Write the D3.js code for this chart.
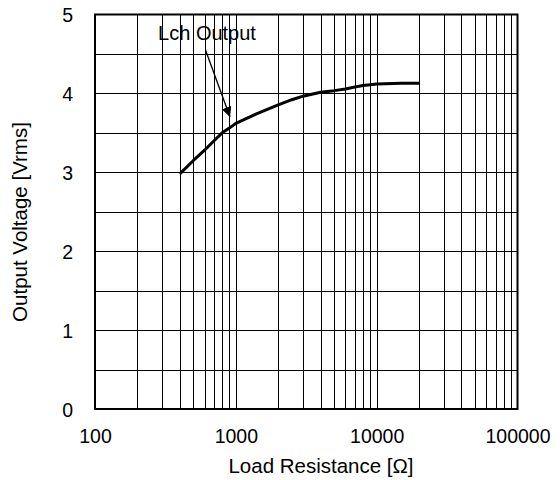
<!DOCTYPE html>
<html>
<head>
<meta charset="utf-8">
<script src="https://cdn.jsdelivr.net/npm/d3@7"></script>
<style>
  html, body { margin: 0; padding: 0; background: #fff; }
  svg { display: block; font-family: "Liberation Sans", Arial, sans-serif; }
</style>
</head>
<body>
<svg id="chart" width="560" height="480"></svg>
<script>
// Load resistance sweep (ohms) and measured Lch output voltage (Vrms)
const loadResistance = [400, 500, 600, 700, 800, 900, 1000, 1400, 2000, 2500, 3000, 4000, 5000, 6000, 7000, 8000, 9000, 10000, 15000, 20000];
const outputVoltage  = [2.98, 3.15, 3.28, 3.40, 3.50, 3.56, 3.62, 3.74, 3.855, 3.92, 3.965, 4.015, 4.035, 4.055, 4.08, 4.10, 4.11, 4.12, 4.13, 4.13];

const xTickValues = [100, 1000, 10000, 100000];
const xTickLabels = ["100", "1000", "10000", "100000"];
const yTickValues = [0, 1, 2, 3, 4, 5];
const yTickLabels = ["0", "1", "2", "3", "4", "5"];
const xTitle = "Load Resistance [Ω]";
const yTitle = "Output Voltage [Vrms]";
const seriesLabel = "Lch Output";

const svg = d3.select("#chart");
const plotLeft = 95, plotRight = 517.5, plotTop = 14.5, plotBottom = 409;

const x = d3.scaleLog().domain([100, 100000]).range([plotLeft, plotRight]);
const y = d3.scaleLinear().domain([0, 5]).range([plotBottom, plotTop]);

// Vertical grid at 1..9 x each decade
const xGrid = [];
for (let d = 100; d < 100000; d *= 10) {
  for (let m = 1; m <= 9; m++) {
    const v = d * m;
    if (v > 100 && v < 100000) xGrid.push(v);
  }
}
const yGrid = d3.range(0.5, 5, 0.5);

const grid = svg.append("g").attr("stroke", "#000").attr("stroke-width", 1).attr("shape-rendering", "crispEdges");
grid.selectAll("line.vx").data(xGrid).join("line")
  .attr("class", "vx")
  .attr("x1", d => Math.round(x(d)) + 0.5).attr("x2", d => Math.round(x(d)) + 0.5)
  .attr("y1", plotTop).attr("y2", plotBottom);
grid.selectAll("line.hy").data(yGrid).join("line")
  .attr("class", "hy")
  .attr("x1", plotLeft).attr("x2", plotRight)
  .attr("y1", d => Math.round(y(d)) + 0.5).attr("y2", d => Math.round(y(d)) + 0.5);

// Frame
svg.append("rect")
  .attr("x", plotLeft).attr("y", plotTop)
  .attr("width", plotRight - plotLeft).attr("height", plotBottom - plotTop)
  .attr("fill", "none").attr("stroke", "#000").attr("stroke-width", 2);

// Axes (labels only; the frame and grid carry the lines)
const xAxis = d3.axisBottom(x).tickValues(xTickValues)
  .tickFormat((d, i) => xTickLabels[i]).tickSize(0).tickPadding(0);
const gx = svg.append("g").attr("transform", `translate(0,${plotBottom})`).call(xAxis);
gx.select(".domain").remove();
gx.selectAll("text").attr("font-size", 19.5).attr("fill", "#000")
  .attr("font-family", "Liberation Sans, Arial, sans-serif")
  .attr("dy", null).attr("y", 34);

const yAxis = d3.axisLeft(y).tickValues(yTickValues)
  .tickFormat((d, i) => yTickLabels[i]).tickSize(0).tickPadding(0);
const gy = svg.append("g").attr("transform", `translate(${plotLeft},0)`).call(yAxis);
gy.select(".domain").remove();
gy.selectAll("text").attr("font-size", 19.5).attr("fill", "#000")
  .attr("font-family", "Liberation Sans, Arial, sans-serif")
  .attr("x", -22).attr("dy", "0.36em");

// Axis titles
svg.append("text")
  .attr("x", 321).attr("y", 473)
  .attr("text-anchor", "middle").attr("font-size", 20.5).attr("fill", "#000")
  .text(xTitle);
svg.append("text")
  .attr("transform", "translate(27,222) rotate(-90)")
  .attr("text-anchor", "middle").attr("font-size", 20.5).attr("fill", "#000")
  .text(yTitle);

// Data curve
const line = d3.line().x((d, i) => x(loadResistance[i])).y(d => y(d));
svg.append("path")
  .datum(outputVoltage)
  .attr("d", line)
  .attr("fill", "none").attr("stroke", "#000").attr("stroke-width", 3)
  .attr("stroke-linejoin", "round");

// Series annotation with arrow
svg.append("defs").append("marker")
  .attr("id", "arrowhead").attr("viewBox", "0 0 10 10")
  .attr("refX", 10).attr("refY", 5)
  .attr("markerUnits", "userSpaceOnUse")
  .attr("markerWidth", 10).attr("markerHeight", 10)
  .attr("orient", "auto")
  .append("path").attr("d", "M0,0 L10,5 L0,10 Z").attr("fill", "#000");

svg.append("text")
  .attr("x", 207).attr("y", 40)
  .attr("text-anchor", "middle").attr("font-size", 20).attr("fill", "#000")
  .text(seriesLabel);
svg.append("line")
  .attr("x1", 205.5).attr("y1", 50)
  .attr("x2", 230).attr("y2", 117)
  .attr("stroke", "#000").attr("stroke-width", 1.3)
  .attr("marker-end", "url(#arrowhead)");
</script>
</body>
</html>
